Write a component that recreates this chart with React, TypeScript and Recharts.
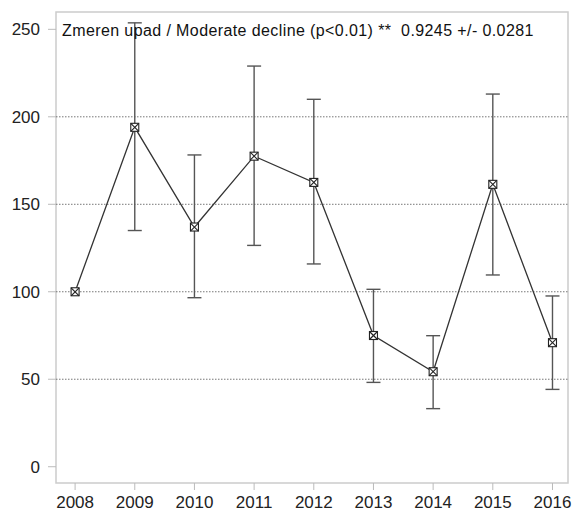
import { ComposedChart, Line, XAxis, YAxis, ErrorBar, ReferenceLine, ReferenceArea } from 'recharts';

const years = [2008, 2009, 2010, 2011, 2012, 2013, 2014, 2015, 2016];
const index = [100, 194, 137, 177.5, 162.5, 75, 54.3, 161.4, 70.9];
const lower = [100, 135, 96.6, 126.5, 115.9, 48.2, 33.2, 109.6, 44.2];
const upper = [100, 253.7, 178.2, 229, 210, 101.4, 74.9, 213, 97.6];
const yTicks = [0, 50, 100, 150, 200, 250];
const gridLines = [50, 100, 150, 200];
const title = 'Zmeren upad / Moderate decline (p<0.01) **  0.9245 +/- 0.0281';

const X_DOMAIN: [number, number] = [2007.68, 2016.26];
const Y_DOMAIN: [number, number] = [-9.3, 259.9];

// first year is the base (100), it has no interval
const data = years.map((year, i) => ({
  year,
  value: index[i],
  err: upper[i] === lower[i] ? null : [index[i] - lower[i], upper[i] - index[i]],
}));

const FONT = '"Liberation Sans", Arial, sans-serif';

function BoxCross(props: any) {
  const { cx, cy } = props;
  if (cx == null || cy == null) return null;
  const h = 4;
  return (
    <g stroke="#222" strokeWidth={1.1}>
      <rect x={cx - h} y={cy - h} width={h * 2} height={h * 2} fill="#fff" />
      <line x1={cx - h} y1={cy - h} x2={cx + h} y2={cy + h} />
      <line x1={cx - h} y1={cy + h} x2={cx + h} y2={cy - h} />
    </g>
  );
}

export default function App() {
  return (
    <div style={{ position: 'absolute', left: 0, top: 0, width: 574, height: 513, background: '#fff' }}>
      <ComposedChart width={574} height={513} data={data} margin={{ top: 12, right: 6, bottom: 0, left: 0 }}>
        <XAxis
          dataKey="year"
          type="number"
          domain={X_DOMAIN}
          ticks={years}
          height={30}
          tickSize={7}
          tickMargin={6}
          axisLine={false}
          tickLine={{ stroke: '#bbb' }}
          tick={{ fill: '#222', fontSize: 17, fontFamily: FONT }}
        />
        <YAxis
          type="number"
          domain={Y_DOMAIN}
          ticks={yTicks}
          width={56}
          tickSize={8}
          tickMargin={8}
          axisLine={false}
          tickLine={{ stroke: '#bbb' }}
          tick={{ fill: '#222', fontSize: 17, fontFamily: FONT }}
        />
        <ReferenceArea x1={X_DOMAIN[0]} x2={X_DOMAIN[1]} y1={Y_DOMAIN[0]} y2={Y_DOMAIN[1]} fill="none" stroke="#ccc" strokeWidth={1.5} />
        {gridLines.map((g) => (
          <ReferenceLine key={g} y={g} stroke="#777" strokeDasharray="1.5 1.5" strokeWidth={1} />
        ))}
        <Line
          dataKey="value"
          stroke="#333"
          strokeWidth={1.3}
          dot={<BoxCross />}
          activeDot={false}
          isAnimationActive={false}
        >
          <ErrorBar dataKey="err" width={7} stroke="#555" strokeWidth={1.4} direction="y" />
        </Line>
      </ComposedChart>
      <div
        style={{
          position: 'absolute',
          left: 62,
          top: 23,
          fontFamily: FONT,
          fontSize: 16,
          lineHeight: '16px',
          letterSpacing: 0.4,
          color: '#111',
          whiteSpace: 'pre',
        }}
      >
        {title}
      </div>
    </div>
  );
}
